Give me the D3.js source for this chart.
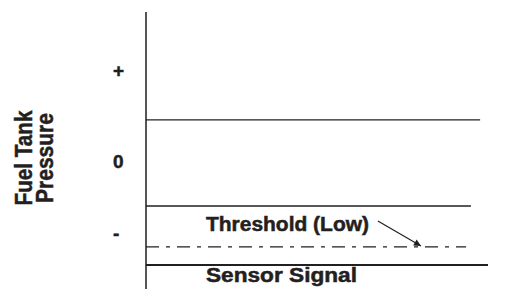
<!DOCTYPE html>
<html>
<head>
<meta charset="utf-8">
<script src="https://cdn.jsdelivr.net/npm/d3@7.9.0/dist/d3.min.js"></script>
<style>
  html, body { margin: 0; padding: 0; background: #fff; }
  svg text { font-family: "Liberation Sans", Arial, sans-serif; font-weight: bold; fill: #231f20; stroke: #231f20; stroke-width: 0.5px; }
</style>
</head>
<body>
<svg id="chart" width="507" height="289"></svg>
<script>
// pressure levels (arbitrary units, 0 = atmospheric)
const bandLevels = [1, -1];
const bandEnds = [97.7, 95];
const thresholdLevel = -1.95;
const thresholdEnd = 93.6;
const signalLevel = -2.37;
const signalEnd = 100;
const tickLabels = ["+", "0", "-"];
const tickValues = [2.15, 0.04, -1.63];
const arrowFrom = [67.8, -1.35];
const arrowTo = [80.4, -1.93];

const svg = d3.select("#chart");

let x = d3.scaleLinear().domain([0, 100]).range([146, 488]);
let y = d3.scaleLinear().domain([-2.93, 3.51]).range([289, 12]);

svg.append("defs").append("marker")
    .attr("id", "head")
    .attr("viewBox", "0 0 10 10")
    .attr("refX", 10).attr("refY", 5)
    .attr("markerWidth", 9).attr("markerHeight", 7)
    .attr("markerUnits", "userSpaceOnUse")
    .attr("orient", "auto")
    .append("path")
    .attr("d", "M0,0L10,5L0,10z")
    .attr("fill", "#231f20");

// vertical axis
svg.append("line")
    .attr("x1", x(0)).attr("x2", x(0))
    .attr("y1", y.range()[1]).attr("y2", y.range()[0])
    .attr("stroke", "#555").attr("stroke-width", 2);

// band boundaries around zero
bandLevels.forEach((v, i) => {
    svg.append("line")
        .attr("x1", x(0)).attr("x2", x(bandEnds[i]))
        .attr("y1", y(v)).attr("y2", y(v))
        .attr("stroke", "#231f20").attr("stroke-width", 1.3);
});

// low threshold (dash-dot)
svg.append("line")
    .attr("x1", x(0)).attr("x2", x(thresholdEnd))
    .attr("y1", y(thresholdLevel)).attr("y2", y(thresholdLevel))
    .attr("stroke", "#231f20").attr("stroke-width", 1.3)
    .attr("stroke-dasharray", "13,7,4,7");

// sensor signal
svg.append("line")
    .attr("x1", x(0)).attr("x2", x(signalEnd))
    .attr("y1", y(signalLevel)).attr("y2", y(signalLevel))
    .attr("stroke", "#231f20").attr("stroke-width", 2);

// tick labels
tickLabels.forEach((t, i) => {
    svg.append("text")
        .attr("x", 113).attr("y", y(tickValues[i]))
        .attr("dy", "0.35em")
        .attr("font-size", 19)
        .text(t);
});

// axis title
const title = svg.append("g").attr("transform", "translate(0,158) rotate(-90)");
title.append("text").attr("x", 0).attr("y", 32).attr("text-anchor", "middle")
    .attr("font-size", 23).attr("textLength", 95).attr("lengthAdjust", "spacingAndGlyphs")
    .text("Fuel Tank");
title.append("text").attr("x", 0).attr("y", 53).attr("text-anchor", "middle")
    .attr("font-size", 23).attr("textLength", 90).attr("lengthAdjust", "spacingAndGlyphs")
    .text("Pressure");

// annotations
svg.append("text")
    .attr("x", 206).attr("y", 231)
    .attr("font-size", 20)
    .attr("textLength", 163).attr("lengthAdjust", "spacingAndGlyphs")
    .text("Threshold (Low)");

svg.append("text")
    .attr("x", 206).attr("y", 282)
    .attr("font-size", 20)
    .attr("textLength", 151).attr("lengthAdjust", "spacingAndGlyphs")
    .text("Sensor Signal");

svg.append("line")
    .attr("x1", x(arrowFrom[0])).attr("y1", y(arrowFrom[1]))
    .attr("x2", x(arrowTo[0])).attr("y2", y(arrowTo[1]))
    .attr("stroke", "#231f20").attr("stroke-width", 1.2)
    .attr("marker-end", "url(#head)");
</script>
</body>
</html>
